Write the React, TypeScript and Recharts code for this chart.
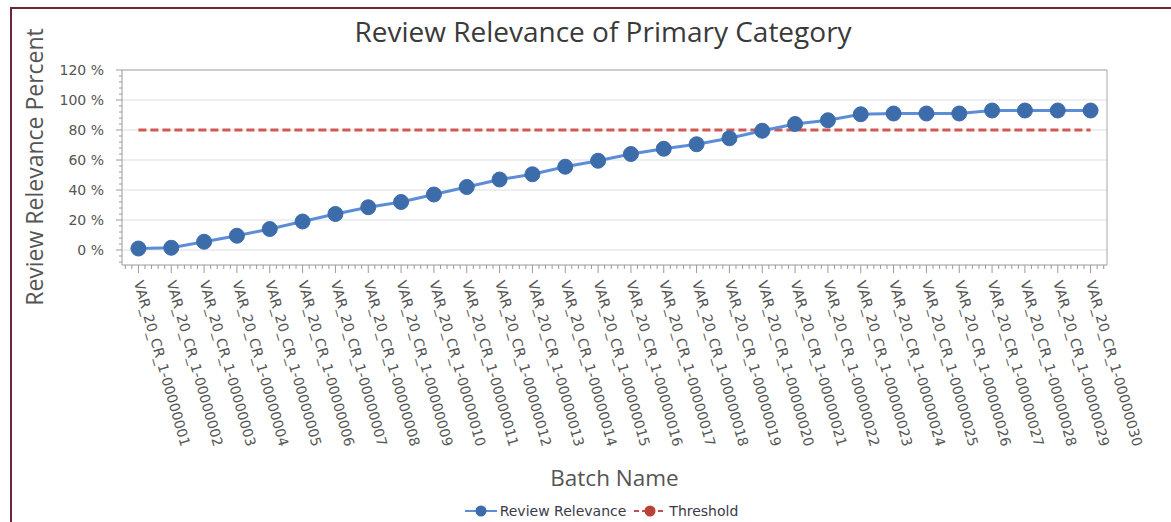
import { LineChart, Line, XAxis, YAxis, CartesianGrid, Legend, ReferenceLine } from 'recharts'

const batchNames = [
  'VAR_20_CR_1-00000001', 'VAR_20_CR_1-00000002', 'VAR_20_CR_1-00000003', 'VAR_20_CR_1-00000004',
  'VAR_20_CR_1-00000005', 'VAR_20_CR_1-00000006', 'VAR_20_CR_1-00000007', 'VAR_20_CR_1-00000008',
  'VAR_20_CR_1-00000009', 'VAR_20_CR_1-00000010', 'VAR_20_CR_1-00000011', 'VAR_20_CR_1-00000012',
  'VAR_20_CR_1-00000013', 'VAR_20_CR_1-00000014', 'VAR_20_CR_1-00000015', 'VAR_20_CR_1-00000016',
  'VAR_20_CR_1-00000017', 'VAR_20_CR_1-00000018', 'VAR_20_CR_1-00000019', 'VAR_20_CR_1-00000020',
  'VAR_20_CR_1-00000021', 'VAR_20_CR_1-00000022', 'VAR_20_CR_1-00000023', 'VAR_20_CR_1-00000024',
  'VAR_20_CR_1-00000025', 'VAR_20_CR_1-00000026', 'VAR_20_CR_1-00000027', 'VAR_20_CR_1-00000028',
  'VAR_20_CR_1-00000029', 'VAR_20_CR_1-00000030',
]

const relevance = [
  1, 1.5, 5.5, 9.5, 14, 19, 24, 28.5, 32, 37,
  42, 47, 50.5, 55.5, 59.5, 64, 67.5, 70.5, 74.5, 79.5,
  84, 86.5, 90.5, 91, 91, 91, 93, 93, 93, 93,
]

const thresholdValue = 80

const yMajorTicks = [0, 20, 40, 60, 80, 100, 120]

// minor ticks: 4 between each major one
const yAllTicks: number[] = []
for (let v = -8; v <= 120; v += 4) yAllTicks.push(v)
const xAllTicks: number[] = []
for (let k = -2; k <= 147; k++) xAllTicks.push(k / 5)

const chartData = batchNames.map((name, i) => ({
  idx: i,
  name,
  relevance: relevance[i],
  threshold: thresholdValue,
}))

const tickFont = '"DejaVu Sans", Tahoma, sans-serif'
const titleFont = '"Open Sans", "Segoe UI", sans-serif'

function BatchTick({ x, y, payload }: any) {
  const v = payload.value
  const major = Math.abs(v - Math.round(v)) < 1e-6
  if (!major) {
    return <line x1={x} x2={x} y1={y} y2={y + 4} stroke="#9a9a9a" />
  }
  const label = batchNames[Math.round(v)]
  return (
    <g>
      <line x1={x} x2={x} y1={y} y2={y + 8} stroke="#9a9a9a" />
      <text
        x={x}
        y={y + 16}
        dy="0.35em"
        transform={`rotate(74 ${x} ${y + 16})`}
        textAnchor="start"
        fontFamily={tickFont}
        fontSize={14}
        fill="#555"
      >
        {label}
      </text>
    </g>
  )
}

function PercentTick({ x, y, payload }: any) {
  const v = payload.value
  const major = v >= 0 && v % 20 === 0
  if (!major) {
    return <line x1={x - 3} x2={x} y1={y} y2={y} stroke="#9a9a9a" />
  }
  return (
    <g>
      <line x1={x - 6} x2={x} y1={y} y2={y} stroke="#9a9a9a" />
      <text x={x - 18} y={y} dy="0.35em" textAnchor="end" fontFamily={tickFont} fontSize={14} fill="#555">
        {`${v} %`}
      </text>
    </g>
  )
}

function renderLegend() {
  return (
    <div
      style={{
        display: 'flex',
        justifyContent: 'center',
        alignItems: 'center',
        paddingLeft: 32,
        fontFamily: tickFont,
        fontSize: 14,
        color: '#3a3a48',
        height: 22,
      }}
    >
      <span style={{ display: 'flex', alignItems: 'center', marginRight: 8 }}>
        <svg width={32} height={14} style={{ marginRight: 3 }}>
          <line x1={0} x2={32} y1={7} y2={7} stroke="#5b8ed6" strokeWidth={2} />
          <circle cx={16} cy={7} r={5.5} fill="#3d6caa" />
        </svg>
        Review Relevance
      </span>
      <span style={{ display: 'flex', alignItems: 'center' }}>
        <svg width={32} height={14} style={{ marginRight: 3 }}>
          <line x1={0} x2={32} y1={7} y2={7} stroke="#c0504d" strokeWidth={2} strokeDasharray="5 3" />
          <circle cx={16} cy={7} r={5.5} fill="#b8413c" />
        </svg>
        Threshold
      </span>
    </div>
  )
}

export default function App() {
  return (
    <div style={{ position: 'absolute', left: 0, top: 0, width: 1171, height: 522, background: '#fff' }}>
      <div
        style={{
          position: 'absolute',
          left: 10,
          top: 7,
          width: 1161,
          height: 515,
          borderTop: '2px solid #6b2737',
          borderLeft: '2px solid #6b2737',
          boxSizing: 'border-box',
        }}
      />
      <LineChart width={1171} height={522} data={chartData} margin={{ top: 70, right: 64, left: 0, bottom: 0 }}>
        <text x={603} y={42} textAnchor="middle" fontFamily={titleFont} fontSize={28} fill="#3a3a3a">
          Review Relevance of Primary Category
        </text>
        <text
          x={43}
          y={167}
          transform="rotate(-90 43 167)"
          textAnchor="middle"
          fontFamily={titleFont}
          fontSize={23}
          fill="#555"
        >
          Review Relevance Percent
        </text>
        <CartesianGrid vertical={false} horizontalValues={yMajorTicks} stroke="#dedede" />
        <XAxis
          dataKey="idx"
          type="number"
          domain={[-0.5, 29.5]}
          ticks={xAllTicks}
          interval={0}
          height={235}
          tickSize={0}
          tickMargin={0}
          tickLine={false}
          tick={<BatchTick />}
          axisLine={{ stroke: '#9a9a9a' }}
          label={{
            value: 'Batch Name',
            position: 'insideBottom',
            offset: 14,
            style: { fontFamily: titleFont, fontSize: 22.5, fill: '#555' },
          }}
        />
        <YAxis
          type="number"
          domain={[-10, 120]}
          ticks={yAllTicks}
          interval={0}
          width={122}
          tickSize={0}
          tickMargin={0}
          tickLine={false}
          tick={<PercentTick />}
          axisLine={{ stroke: '#9a9a9a' }}
        />
        <ReferenceLine y={120} stroke="#a8a8a8" />
        <ReferenceLine x={29.5} stroke="#a8a8a8" />
        <Legend verticalAlign="bottom" content={renderLegend} wrapperStyle={{ left: 0, width: 1171, height: 22, bottom: 0 }} />
        <Line
          dataKey="threshold"
          name="Threshold"
          stroke="#d15853"
          strokeWidth={3}
          strokeDasharray="8 4"
          dot={false}
          activeDot={false}
          isAnimationActive={false}
        />
        <Line
          dataKey="relevance"
          name="Review Relevance"
          stroke="#5b8ed6"
          strokeWidth={3}
          dot={{ r: 7.5, fill: '#3d6caa', stroke: '#3d6caa', strokeWidth: 1 }}
          activeDot={false}
          isAnimationActive={false}
        />
      </LineChart>
    </div>
  )
}
